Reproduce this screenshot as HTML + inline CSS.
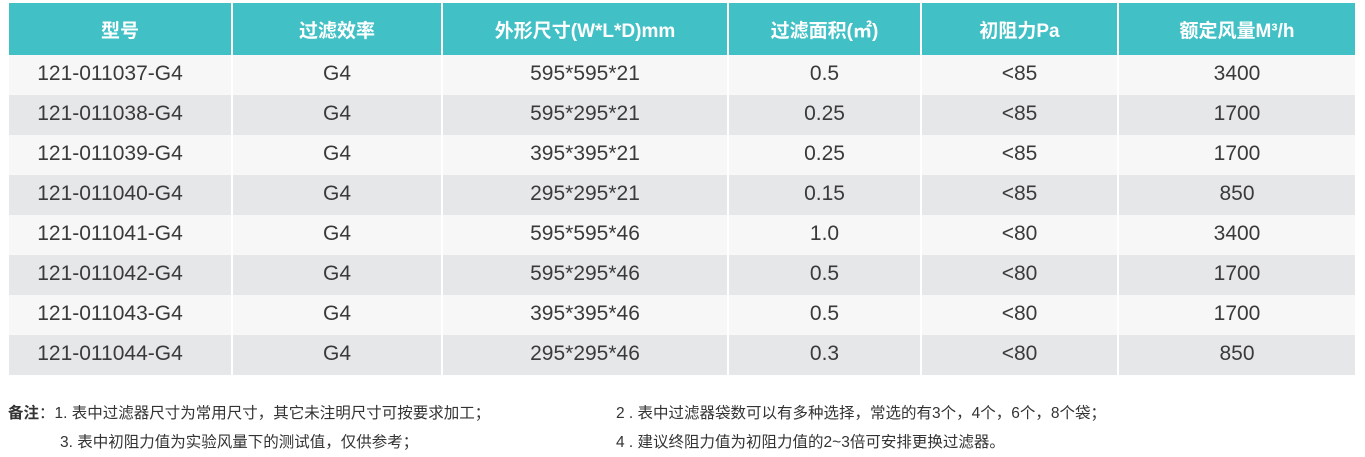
<!DOCTYPE html>
<html><head><meta charset="utf-8"><style>
body{margin:0;width:1365px;height:457px;background:#fff;font-family:"Liberation Sans","Noto Sans CJK SC",sans-serif;overflow:hidden;position:relative}
table{position:absolute;left:9px;top:3px;width:1346px;border-collapse:collapse;table-layout:fixed}
th{background:#41c0c6;color:#fff;font-size:19px;font-weight:bold;height:52px;border-left:2px solid #fff;padding:0}
td{height:38px;text-align:center;font-size:21px;color:#3a3a3a;border-left:2px solid #fff;padding:0 0 2px 0;font-family:"Liberation Sans","Noto Sans CJK SC",sans-serif}
td:first-child{padding-right:20px}
th:first-child,td:first-child{border-left:none}
tr:nth-child(odd) td{background:#f7f7f7}
tr:nth-child(even) td{background:#e6e7e8}
.n{position:absolute;font-size:15.5px;color:#333;white-space:nowrap}
</style></head><body>
<table>
<colgroup><col style="width:223px"><col style="width:210px"><col style="width:286px"><col style="width:193px"><col style="width:197px"><col style="width:237px"></colgroup>
<thead><tr><th>型号</th><th>过滤效率</th><th>外形尺寸(W*L*D)mm</th><th>过滤面积(㎡)</th><th>初阻力Pa</th><th>额定风量M³/h</th></tr></thead>
<tbody>
<tr><td>121-011037-G4</td><td>G4</td><td>595*595*21</td><td>0.5</td><td>&lt;85</td><td>3400</td></tr>
<tr><td>121-011038-G4</td><td>G4</td><td>595*295*21</td><td>0.25</td><td>&lt;85</td><td>1700</td></tr>
<tr><td>121-011039-G4</td><td>G4</td><td>395*395*21</td><td>0.25</td><td>&lt;85</td><td>1700</td></tr>
<tr><td>121-011040-G4</td><td>G4</td><td>295*295*21</td><td>0.15</td><td>&lt;85</td><td>850</td></tr>
<tr><td>121-011041-G4</td><td>G4</td><td>595*595*46</td><td>1.0</td><td>&lt;80</td><td>3400</td></tr>
<tr><td>121-011042-G4</td><td>G4</td><td>595*295*46</td><td>0.5</td><td>&lt;80</td><td>1700</td></tr>
<tr><td>121-011043-G4</td><td>G4</td><td>395*395*46</td><td>0.5</td><td>&lt;80</td><td>1700</td></tr>
<tr><td>121-011044-G4</td><td>G4</td><td>295*295*46</td><td>0.3</td><td>&lt;80</td><td>850</td></tr>
</tbody></table>
<div class="n" style="left:8px;top:401px"><b>备注</b>：1. 表中过滤器尺寸为常用尺寸，其它未注明尺寸可按要求加工；</div>
<div class="n" style="left:616px;top:401px">2 . 表中过滤器袋数可以有多种选择，常选的有3个，4个，6个，8个袋；</div>
<div class="n" style="left:60px;top:430px">3. 表中初阻力值为实验风量下的测试值，仅供参考；</div>
<div class="n" style="left:616px;top:430px">4 . 建议终阻力值为初阻力值的2~3倍可安排更换过滤器。</div>
</body></html>
